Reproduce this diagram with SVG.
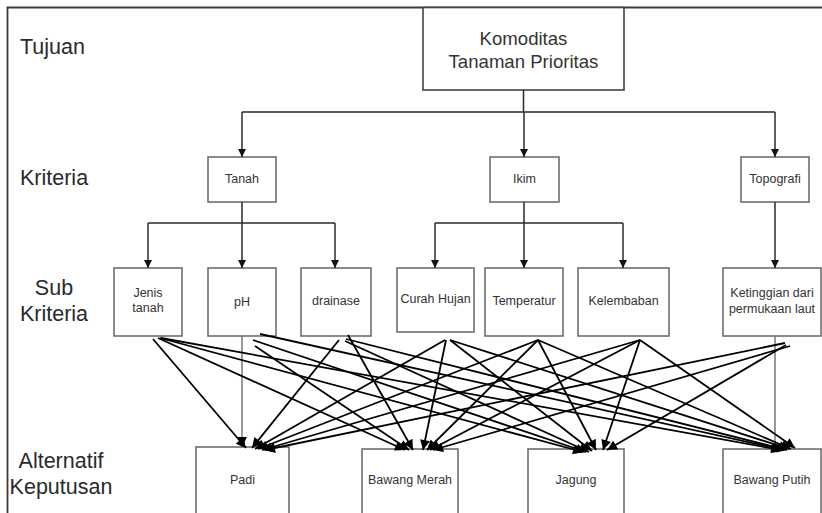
<svg xmlns="http://www.w3.org/2000/svg" width="822" height="513" viewBox="0 0 822 513">
<style>
.frame{stroke:#3a3a3a;stroke-width:1.8;fill:none}
.box{fill:#fff;stroke:#6e6e6e;stroke-width:1.6}
.lbl{font-family:"Liberation Sans",Arial,sans-serif;font-size:21.5px;fill:#2a2a2a}
.t{font-family:"Liberation Sans",Arial,sans-serif;font-size:12.5px;fill:#333;text-anchor:middle}
.big{font-family:"Liberation Sans",Arial,sans-serif;font-size:18.6px;fill:#333;text-anchor:middle}
.tree{stroke:#2a2a2a;stroke-width:1.5;fill:none}
.x{stroke:#000;stroke-width:1.8;fill:none;marker-end:url(#ah)}
.v{stroke:#777;stroke-width:1.5;fill:none}
</style>
<defs>
<marker id="ah" viewBox="0 0 10 10" refX="10" refY="5" markerWidth="13" markerHeight="10" markerUnits="userSpaceOnUse" orient="auto"><path d="M0,0 L10,5 L0,10 z" fill="#000"/></marker>
<marker id="sm" viewBox="0 0 10 10" refX="10" refY="5" markerWidth="8" markerHeight="8" markerUnits="userSpaceOnUse" orient="auto"><path d="M0,0 L10,5 L0,10 z" fill="#111"/></marker>
</defs>
<rect width="822" height="513" fill="#fff"/>
<path class="frame" d="M7.5,513 V7.5 H822"/>

<g id="labels">
<text class="lbl" x="20" y="54">Tujuan</text>
<text class="lbl" x="20" y="185">Kriteria</text>
<text class="lbl" x="54" y="295" text-anchor="middle">Sub</text>
<text class="lbl" x="54" y="321" text-anchor="middle">Kriteria</text>
<text class="lbl" x="61" y="468" text-anchor="middle">Alternatif</text>
<text class="lbl" x="61" y="494" text-anchor="middle">Keputusan</text>
</g>

<g id="goal">
<rect class="box" x="423" y="7.5" width="201" height="82.5" style="stroke:#444"/>
<text class="big" x="523.5" y="44.5">Komoditas</text>
<text class="big" x="523.5" y="68">Tanaman Prioritas</text>
</g>

<g id="tanah"><rect class="box" x="208" y="157" width="68" height="45"/><text class="t" x="242" y="183">Tanah</text></g>
<g id="ikim"><rect class="box" x="490" y="157" width="69" height="45"/><text class="t" x="524.5" y="183">Ikim</text></g>
<g id="topografi"><rect class="box" x="741" y="157" width="68" height="45"/><text class="t" x="775" y="183">Topografi</text></g>

<g id="jenis"><rect class="box" x="114" y="268" width="68" height="68"/><text class="t" x="148" y="297">Jenis</text><text class="t" x="148" y="312">tanah</text></g>
<g id="ph"><rect class="box" x="208" y="268" width="68" height="68"/><text class="t" x="242" y="306">pH</text></g>
<g id="drainase"><rect class="box" x="301" y="268" width="70" height="68"/><text class="t" x="336" y="305">drainase</text></g>
<g id="curah"><rect class="box" x="397" y="268" width="77" height="64"/><text class="t" x="435.5" y="303">Curah Hujan</text></g>
<g id="temperatur"><rect class="box" x="485" y="268" width="78" height="68"/><text class="t" x="524" y="305">Temperatur</text></g>
<g id="kelembaban"><rect class="box" x="578" y="268" width="91" height="68"/><text class="t" x="623.5" y="305">Kelembaban</text></g>
<g id="ketinggian"><rect class="box" x="723" y="268" width="98" height="68"/><text class="t" x="772" y="297">Ketinggian dari</text><text class="t" x="772" y="313">permukaan laut</text></g>

<g id="padi"><rect class="box" x="196" y="447" width="93" height="80"/><text class="t" x="242.5" y="484">Padi</text></g>
<g id="bawangmerah"><rect class="box" x="362" y="449" width="96" height="80"/><text class="t" x="410" y="484">Bawang Merah</text></g>
<g id="jagung"><rect class="box" x="528" y="449" width="96" height="80"/><text class="t" x="576" y="484">Jagung</text></g>
<g id="bawangputih"><rect class="box" x="723" y="449" width="98" height="80"/><text class="t" x="772" y="484">Bawang Putih</text></g>

<g id="connectors">
<path class="tree" d="M523.5,90 V112 M242,112 H775"/>
<path class="tree" d="M242,112 V157" marker-end="url(#sm)"/>
<path class="tree" d="M524,112 V157" marker-end="url(#sm)"/>
<path class="tree" d="M775,112 V157" marker-end="url(#sm)"/>
<path class="tree" d="M242,202 V223 M148,223 H335"/>
<path class="tree" d="M148,223 V268" marker-end="url(#sm)"/>
<path class="tree" d="M242,223 V268" marker-end="url(#sm)"/>
<path class="tree" d="M335,223 V268" marker-end="url(#sm)"/>
<path class="tree" d="M524,202 V223 M435,223 H623"/>
<path class="tree" d="M435,223 V268" marker-end="url(#sm)"/>
<path class="tree" d="M524,223 V268" marker-end="url(#sm)"/>
<path class="tree" d="M623,223 V268" marker-end="url(#sm)"/>
<path class="tree" d="M775,202 V268" marker-end="url(#sm)"/>

<path class="v" d="M242,336 V447" marker-end="url(#ah)"/>
<path class="v" d="M775,336 V446"/>

<path class="x" d="M153,339 L246,448"/>
<path class="x" d="M158,338 L405,450"/>
<path class="x" d="M160,338 L583,452"/>
<path class="x" d="M161,338 L781,450"/>

<path class="x" d="M255,346 L409,450"/>
<path class="x" d="M253,340 L586,452"/>
<path class="x" d="M260,334 L784,450"/>

<path class="x" d="M339,340 L252,448"/>
<path class="x" d="M348,335 L413,450"/>
<path class="x" d="M345,341 L589,452"/>
<path class="x" d="M346,339 L787,450"/>

<path class="x" d="M445,340 L255,449"/>
<path class="x" d="M446,340 L423,450"/>
<path class="x" d="M450,340 L592,451"/>
<path class="x" d="M450,340 L789,449"/>

<path class="x" d="M538,340 L258,449"/>
<path class="x" d="M538,340 L427,450"/>
<path class="x" d="M538,340 L596,450"/>
<path class="x" d="M538,340 L791,449"/>

<path class="x" d="M640,340 L262,450"/>
<path class="x" d="M640,340 L430,450"/>
<path class="x" d="M640,340 L603,450"/>
<path class="x" d="M640,340 L795,448"/>

<path class="x" d="M785,343 L265,450"/>
<path class="x" d="M790,346 L433,450"/>
<path class="x" d="M786,345 L607,450"/>
</g>
</svg>
